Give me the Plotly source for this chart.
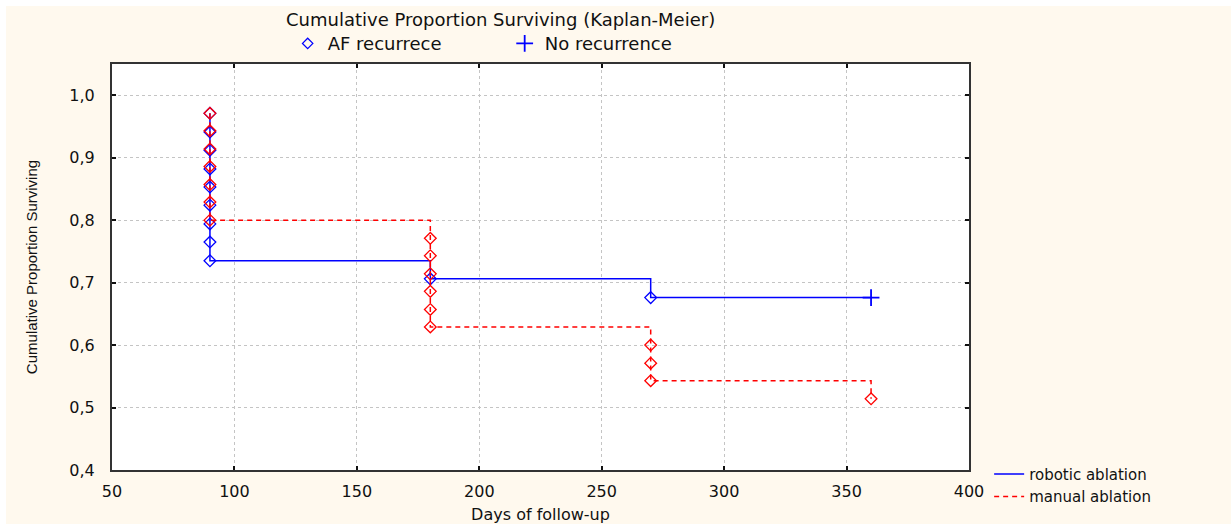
import plotly.graph_objects as go

# ---- data ----
robotic_days = [90, 90, 90, 90, 90, 90, 90, 90, 90, 180, 270]
robotic_surv = [0.971, 0.941, 0.912, 0.882, 0.853, 0.824, 0.794, 0.765, 0.735, 0.706, 0.676]
robotic_cens_days = [360]
robotic_cens_surv = [0.676]

manual_days = [90, 90, 90, 90, 90, 90, 90, 180, 180, 180, 180, 180, 180, 270, 270, 270, 360]
manual_surv = [0.971, 0.943, 0.914, 0.886, 0.857, 0.829, 0.800, 0.771, 0.743, 0.714, 0.686,
               0.657, 0.629, 0.600, 0.571, 0.543, 0.514]

x_ticks = [50, 100, 150, 200, 250, 300, 350, 400]
y_ticks = [0.4, 0.5, 0.6, 0.7, 0.8, 0.9, 1.0]
y_ticktext = ["0,4", "0,5", "0,6", "0,7", "0,8", "0,9", "1,0"]

BLUE = "#0000FF"
RED = "#FF0000"
CREAM = "#FFF9EE"
FONT = "DejaVu Sans"

fig = go.Figure()

# robotic line (step)
fig.add_trace(go.Scatter(
    x=robotic_days + robotic_cens_days, y=robotic_surv + robotic_cens_surv,
    mode="lines", line=dict(color=BLUE, width=1.5, shape="hv"),
    name="robotic ablation", legend="legend2", hoverinfo="skip"))
fig.add_trace(go.Scatter(
    x=robotic_days, y=robotic_surv, mode="markers",
    marker=dict(symbol="diamond-open", size=9, color=BLUE, line=dict(width=1.3, color=BLUE)),
    showlegend=False))
fig.add_trace(go.Scatter(
    x=robotic_cens_days, y=robotic_cens_surv, mode="markers",
    marker=dict(symbol="cross-thin-open", size=12, color=BLUE, line=dict(width=1.8, color=BLUE)),
    showlegend=False))

# manual line (step)
fig.add_trace(go.Scatter(
    x=manual_days, y=manual_surv,
    mode="lines", line=dict(color=RED, width=1.5, shape="hv", dash="5px,4px"),
    name="manual ablation", legend="legend2", hoverinfo="skip"))
fig.add_trace(go.Scatter(
    x=manual_days, y=manual_surv, mode="markers",
    marker=dict(symbol="diamond-open", size=9, color=RED, line=dict(width=1.3, color=RED)),
    showlegend=False))

# top legend entries (marker types)
fig.add_trace(go.Scatter(
    x=[None], y=[None], mode="markers", name="AF recurrece", legend="legend",
    marker=dict(symbol="diamond-open", size=8, color=BLUE, line=dict(width=1.3, color=BLUE))))
fig.add_trace(go.Scatter(
    x=[None], y=[None], mode="markers", name="No recurrence", legend="legend",
    marker=dict(symbol="cross-thin-open", size=12, color=BLUE, line=dict(width=1.8, color=BLUE))))

axis_common = dict(
    showline=True, linecolor="#333333", linewidth=2, mirror="ticks",
    ticks="inside", ticklen=4, tickcolor="#111111", tickwidth=1.5,
    showgrid=True, gridcolor="#C4C4C4", griddash="dot", gridwidth=1,
    zeroline=False, automargin=False,
    tickfont=dict(family=FONT, size=16, color="#111111"),
)

fig.update_layout(
    width=1231, height=524,
    margin=dict(l=112, r=262, t=64, b=54, autoexpand=False),
    paper_bgcolor="white", plot_bgcolor="white",
    font=dict(family=FONT, color="#111111"),
    xaxis=dict(range=[50, 400], tickvals=x_ticks, ticklabelstandoff=6,
               title=dict(text="Days of follow-up", font=dict(family=FONT, size=16), standoff=9),
               **axis_common),
    yaxis=dict(range=[0.4, 1.05], tickvals=y_ticks, ticktext=y_ticktext, ticklabelstandoff=12,
               title=dict(text="Cumulative Proportion Surviving",
                          font=dict(family="Liberation Sans", size=15),
                          standoff=28),
               **axis_common),
    legend=dict(orientation="h", x=0.205, xanchor="left", y=1.05, yanchor="middle",
                bgcolor="rgba(0,0,0,0)", font=dict(family=FONT, size=18, color="#111111"),
                entrywidth=172, itemclick=False),
    legend2=dict(orientation="v", x=1.0235, xanchor="left", y=0.03, yanchor="top",
                 bgcolor="rgba(0,0,0,0)", font=dict(family=FONT, size=15, color="#111111"),
                 tracegroupgap=0, itemclick=False),
    annotations=[dict(text="Cumulative Proportion Surviving (Kaplan-Meier)",
                      xref="paper", yref="paper", x=(500 - 112) / 857, y=(470 - 20) / 406,
                      xanchor="center", yanchor="middle", showarrow=False,
                      font=dict(family=FONT, size=18, color="#111111"))],
    shapes=[
        dict(type="rect", xref="paper", yref="paper", layer="below",
             x0=(6 - 112) / 857, x1=(1240 - 112) / 857,
             y0=(470 - 530) / 406, y1=(470 - 6) / 406,
             fillcolor=CREAM, line=dict(width=0)),
        dict(type="rect", xref="paper", yref="paper", layer="below",
             x0=0, x1=1, y0=0, y1=1, fillcolor="white", line=dict(width=0)),
    ],
    showlegend=True,
)

fig.write_html("out.html")
